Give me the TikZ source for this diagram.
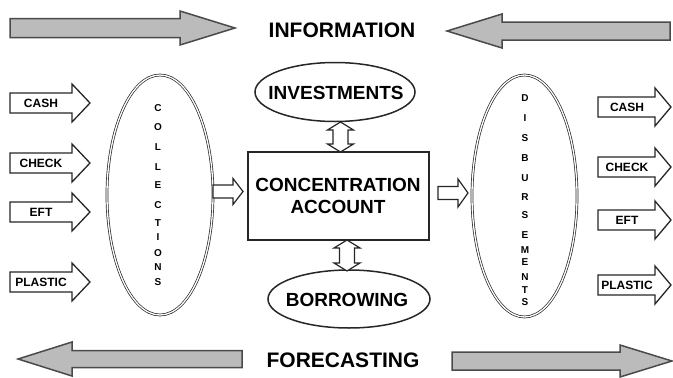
\documentclass[tikz,border=0pt]{standalone}
\usepackage{fontspec}
\setmainfont{Liberation Sans}
\usetikzlibrary{shapes.geometric}

\definecolor{bigfill}{HTML}{BBBBBB}
\definecolor{bigline}{HTML}{4A4A4A}

% horizontal block arrow: style, x of tail, x of head base, x of tip, y of axis, shaft half, head half
\newcommand{\blockarrow}[7]{%
  \draw[#1] (#2,#5-#6) -- (#3,#5-#6) -- (#3,#5-#7) -- (#4,#5)
    -- (#3,#5+#7) -- (#3,#5+#6) -- (#2,#5+#6) -- cycle;}
% vertical two-headed arrow: style, x of axis, y top, y bottom, shaft half, head half, head length
\newcommand{\twowayarrow}[7]{%
  \draw[#1] (#2,#3) -- (#2+#6,#3+#7) -- (#2+#5,#3+#7) -- (#2+#5,#4-#7)
    -- (#2+#6,#4-#7) -- (#2,#4) -- (#2-#6,#4-#7) -- (#2-#5,#4-#7)
    -- (#2-#5,#3+#7) -- (#2-#6,#3+#7) -- cycle;}

\begin{document}
\begin{tikzpicture}[x=1pt,y=-1pt,
  bigarrow/.style={fill=bigfill,draw=bigline,line width=1.5pt,line join=miter},
  smallarrow/.style={fill=white,draw=black!85,line width=1.3pt,line join=miter},
  linkarrow/.style={fill=white,draw=black!85,line width=1.2pt,line join=miter},
  headline/.style={font=\fontsize{21}{21}\selectfont\bfseries,inner sep=0pt},
  boxtext/.style={font=\fontsize{19}{22}\selectfont\bfseries,align=center,inner sep=0pt},
  tagtext/.style={font=\fontsize{12}{12}\selectfont\bfseries,inner sep=0pt},
  letter/.style={font=\fontsize{10}{10}\selectfont\bfseries,inner sep=0pt},
  oval/.style={draw=black!85,ellipse,line width=1.5pt,inner sep=0pt},
  twooval/.style={draw=black!85,ellipse,double,double distance=1.3pt,line width=0.7pt,inner sep=0pt}]

\useasboundingbox (0,0) rectangle (673,378);

% information and forecasting banners
\blockarrow{bigarrow}{10}{180}{235}{28}{9.5}{17}
\blockarrow{bigarrow}{670}{502}{447}{31}{9}{17}
\node[headline] (info) at (342,30) {INFORMATION};

\blockarrow{bigarrow}{242}{72}{18}{359}{8.5}{17}
\blockarrow{bigarrow}{452}{620}{672}{361}{9}{16}
\node[headline] (fcst) at (343,360) {FORECASTING};

% collection channels
\foreach \y/\t/\n in {103/CASH/cash,163/CHECK/check,212/EFT/eft,282/PLASTIC/plastic}{
  \blockarrow{smallarrow}{10}{72}{90}{\y}{10}{19}
  \node[tagtext] (in-\n) at (41,\y) {\t};
}

% collections oval
\node[twooval,minimum width=106pt,minimum height=240pt] (coll) at (160,195) {};
\foreach \y/\c [count=\i] in {108/C,127/O,147/L,167/L,185/E,205/C,223/T,237/I,253/O,267/N,282/S}{
  \node[letter] (coll-\i) at (158,\y) {\c};
}

% concentration account and its links
\node[draw=black!85,line width=1.4pt,minimum width=181pt,minimum height=88pt,inner sep=0pt] (acct) at (338.5,196) {};
\node[boxtext] (acct-text) at (338,196) {CONCENTRATION\\ACCOUNT};

\node[oval,minimum width=160pt,minimum height=59pt] (invest) at (335,92) {};
\node[boxtext] (invest-text) at (336,93) {INVESTMENTS};
\node[oval,minimum width=162pt,minimum height=58pt] (borrow) at (349,299) {};
\node[boxtext] (borrow-text) at (347,300) {BORROWING};

\twowayarrow{linkarrow}{340.5}{122}{152}{7.5}{13}{8}
\twowayarrow{linkarrow}{347}{240}{271}{7.5}{13}{8}

\blockarrow{linkarrow}{213}{233}{243}{191.5}{6.5}{13}
\blockarrow{linkarrow}{438}{458}{468}{193}{6.5}{14}

% disbursements oval
\node[twooval,minimum width=105pt,minimum height=242pt] (disb) at (524.5,196) {};
\foreach \y/\c [count=\i] in {98/D,118/I,138/S,158/B,178/U,197/R,215/S,235/E,250/M,262/E,277/N,290/T,302/S}{
  \node[letter] (disb-\i) at (525,\y) {\c};
}

% disbursement channels
\foreach \y/\t/\n in {107/CASH/cash,167/CHECK/check,220/EFT/eft,285/PLASTIC/plastic}{
  \blockarrow{smallarrow}{598}{655}{671}{\y}{10}{19}
  \node[tagtext] (out-\n) at (627,\y) {\t};
}

\end{tikzpicture}
\end{document}
